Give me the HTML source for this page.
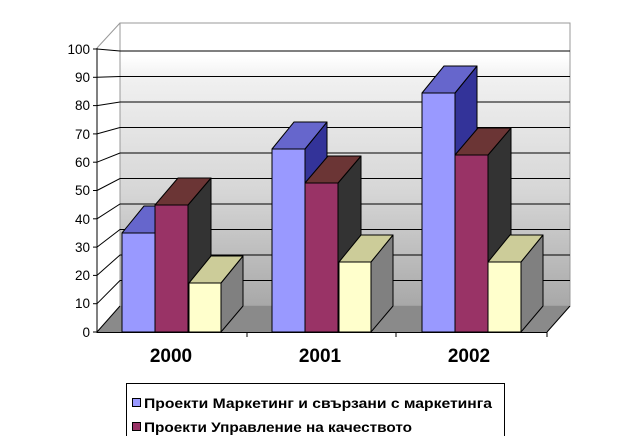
<!DOCTYPE html>
<html><head><meta charset="utf-8"><style>
body{margin:0;background:#fff;}
svg{display:block;font-family:"Liberation Sans",Arial,sans-serif;}
</style></head><body>
<svg width="640" height="436" viewBox="0 0 640 436" xmlns="http://www.w3.org/2000/svg">
<defs>
<linearGradient id="wall" x1="0" y1="0" x2="0" y2="1">
<stop offset="0" stop-color="#ffffff"/>
<stop offset="0.12" stop-color="#ffffff"/>
<stop offset="0.2" stop-color="#f0f0f0"/>
<stop offset="0.6" stop-color="#d6d6d6"/>
<stop offset="1" stop-color="#a8a8a8"/>
</linearGradient>
</defs>
<rect x="120" y="23" width="450" height="283" fill="url(#wall)" stroke="#999" stroke-width="1"/>
<polygon points="97,48 120,23 120,306 97,332" fill="#fff"/>
<line x1="97" y1="48" x2="120" y2="23" stroke="#999"/>
<line x1="120" y1="23" x2="120" y2="306" stroke="#999"/>
<polygon points="97,332 120,306 570,306 547,332" fill="#8a8a8a"/>
<line x1="547" y1="332" x2="570" y2="306" stroke="#000"/>
<line x1="570" y1="306" x2="570" y2="23" stroke="#999"/>
<g stroke="#000" stroke-width="1" fill="none">
<polyline points="97,303.7 120,280.5 570,280.5"/>
<polyline points="97,275.4 120,255 570,255"/>
<polyline points="97,247.1 120,229.5 570,229.5"/>
<polyline points="97,218.8 120,204 570,204"/>
<polyline points="97,190.5 120,178.5 570,178.5"/>
<polyline points="97,162.2 120,153 570,153"/>
<polyline points="97,133.9 120,127.5 570,127.5"/>
<polyline points="97,105.6 120,102 570,102"/>
<polyline points="97,77.3 120,76.5 570,76.5"/>
<polyline points="97,49 120,51 570,51"/>
<line x1="97" y1="332" x2="120" y2="306"/>
</g>
<line x1="97" y1="48" x2="97" y2="333" stroke="#000"/>
<line x1="97" y1="332.5" x2="547" y2="332.5" stroke="#000"/>
<g stroke="#000">
<line x1="93" y1="332" x2="97" y2="332"/><line x1="93" y1="303.7" x2="97" y2="303.7"/>
<line x1="93" y1="275.4" x2="97" y2="275.4"/><line x1="93" y1="247.1" x2="97" y2="247.1"/>
<line x1="93" y1="218.8" x2="97" y2="218.8"/><line x1="93" y1="190.5" x2="97" y2="190.5"/>
<line x1="93" y1="162.2" x2="97" y2="162.2"/><line x1="93" y1="133.9" x2="97" y2="133.9"/>
<line x1="93" y1="105.6" x2="97" y2="105.6"/><line x1="93" y1="77.3" x2="97" y2="77.3"/>
<line x1="93" y1="49" x2="97" y2="49"/>
<line x1="247" y1="332" x2="247" y2="337"/><line x1="396" y1="332" x2="396" y2="337"/>
<line x1="547" y1="332" x2="547" y2="337"/>
</g>
<g font-size="13.5" text-anchor="end" fill="#000">
<text x="90" y="337">0</text><text x="90" y="308">10</text><text x="90" y="280">20</text>
<text x="90" y="252">30</text><text x="90" y="224">40</text><text x="90" y="195">50</text>
<text x="90" y="167">60</text><text x="90" y="139">70</text><text x="90" y="110">80</text>
<text x="90" y="82">90</text><text x="90" y="54">100</text>
</g>
<g stroke="#000" stroke-width="1" stroke-linejoin="round">
<polygon points="155,233 177,206 177,306 155,332" fill="#333399"/>
<polygon points="122,233 144,206 177,206 155,233" fill="#6666cc"/>
<rect x="122" y="233" width="33" height="99" fill="#9999ff"/>
<polygon points="188,205 211,178 211,306 188,332" fill="#333333"/>
<polygon points="155,205 178,178 211,178 188,205" fill="#6b3535"/>
<rect x="155" y="205" width="33" height="127" fill="#993366"/>
<polygon points="221,283 243,256 243,306 221,332" fill="#808080"/>
<polygon points="189,283 211,256 243,256 221,283" fill="#cccc99"/>
<rect x="189" y="283" width="32" height="49" fill="#ffffcc"/>
<polygon points="305,149 327,122 327,306 305,332" fill="#333399"/>
<polygon points="272,149 294,122 327,122 305,149" fill="#6666cc"/>
<rect x="272" y="149" width="33" height="183" fill="#9999ff"/>
<polygon points="338,183 361,156 361,306 338,332" fill="#333333"/>
<polygon points="305,183 328,156 361,156 338,183" fill="#6b3535"/>
<rect x="305" y="183" width="33" height="149" fill="#993366"/>
<polygon points="371,262 393,235 393,306 371,332" fill="#808080"/>
<polygon points="339,262 361,235 393,235 371,262" fill="#cccc99"/>
<rect x="339" y="262" width="32" height="70" fill="#ffffcc"/>
<polygon points="455,93 477,66 477,306 455,332" fill="#333399"/>
<polygon points="422,93 444,66 477,66 455,93" fill="#6666cc"/>
<rect x="422" y="93" width="33" height="239" fill="#9999ff"/>
<polygon points="488,155 511,128 511,306 488,332" fill="#333333"/>
<polygon points="455,155 478,128 511,128 488,155" fill="#6b3535"/>
<rect x="455" y="155" width="33" height="177" fill="#993366"/>
<polygon points="521,262 543,235 543,306 521,332" fill="#808080"/>
<polygon points="488,262 510,235 543,235 521,262" fill="#cccc99"/>
<rect x="488" y="262" width="33" height="70" fill="#ffffcc"/>
</g>
<g font-size="19" font-weight="bold" text-anchor="middle" fill="#000">
<text x="171" y="362">2000</text><text x="320" y="362">2001</text><text x="469" y="362">2002</text>
</g>
<rect x="126.5" y="383.5" width="378" height="60" fill="#fff" stroke="#000"/>
<rect x="132.5" y="398.5" width="8" height="8" fill="#9999ff" stroke="#000"/>
<rect x="132.5" y="422.5" width="8" height="8" fill="#993366" stroke="#000"/>
<g font-size="14" font-weight="bold" fill="#000">
<text x="144" y="408" textLength="348" lengthAdjust="spacingAndGlyphs">Проекти Маркетинг и свързани с маркетинга</text>
<text x="144" y="432" textLength="268" lengthAdjust="spacingAndGlyphs">Проекти Управление на качеството</text>
</g>
</svg>
</body></html>
